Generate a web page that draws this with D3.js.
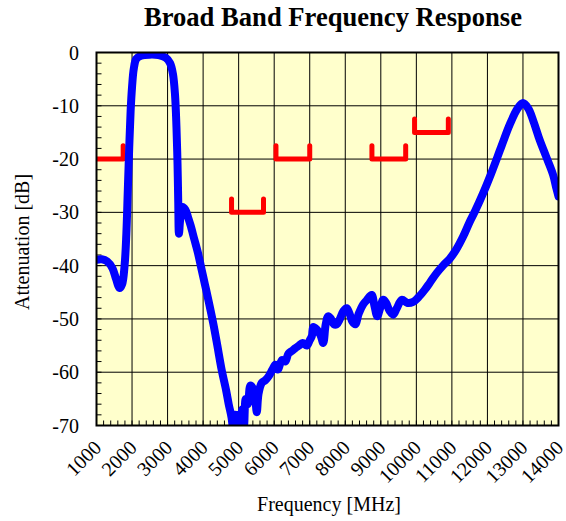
<!DOCTYPE html>
<html>
<head>
<meta charset="utf-8">
<script src="https://cdn.jsdelivr.net/npm/d3@7"></script>
<style>
  html, body { margin: 0; padding: 0; background: #fff; }
  svg { display: block; font-family: "Liberation Serif", "Times New Roman", serif; }
</style>
</head>
<body>
<div id="chart"></div>
<script>
// measured response (MHz, dB)
const freq = [1000, 1150, 1300, 1450, 1550, 1650, 1720, 1790, 1840, 1880, 1920, 1960, 2000, 2050, 2120, 2250, 2500, 2750, 2950, 3070, 3150, 3210, 3250, 3280, 3300, 3320, 3360, 3420, 3500, 3580, 3650, 3750, 3850, 3950, 4050, 4150, 4290, 4400, 4520, 4650, 4720, 4800,
  4850, 4900, 4950, 5000, 5050, 5100, 5150, 5200, 5260, 5330, 5400, 5460, 5510, 5560, 5650, 5750, 5840, 5950, 6030, 6100, 6220, 6310, 6400, 6500, 6590, 6700, 6800, 6920, 7000, 7060, 7100, 7200, 7300, 7380, 7450, 7520, 7600, 7680, 7760, 7850, 7950, 8040, 8120, 8200, 8280, 8380, 8500, 8600, 8740, 8820, 8900, 8980, 9070, 9150, 9250, 9350, 9450, 9590, 9750, 9910, 10050, 10240, 10380, 10570, 10750, 10940, 11120, 11320, 11500, 11650, 11880, 12100, 12400, 12630, 12850, 13000, 13150, 13300, 13470, 13650, 13850, 13940, 14000];
const atten = [-38.9, -38.8, -39.2, -40.5, -42.5, -44.2, -43.5, -40, -34, -26, -18, -11, -6.5, -3, -1.2, -0.6, -0.4, -0.5, -1, -2, -4, -8, -14, -21, -28, -34, -31, -29, -29.5, -31, -32.5, -35, -37.5, -40.5, -43.5, -46.5, -51, -55, -59.5, -63.5, -66, -68.5,
  -71, -68, -72, -68, -71, -67, -70, -65, -66, -62.5, -63, -64.5, -67.5, -64, -62, -61.5, -60.8, -59.5, -58.6, -59.5, -57.7, -58, -56.5, -56, -55.5, -55, -54.5, -55, -54, -53.2, -51.5, -52, -53, -54.5, -51, -49.5, -50, -51, -51, -50, -48.5, -48, -49, -50.5, -51, -49, -47.3, -46.5, -45.5, -47.5, -49.5, -48, -46.4, -47, -48.5, -49.2, -48, -46.4, -47, -46.8, -46, -44.5, -43.2, -41.4, -40, -38.7, -37, -34.5, -31.8, -29.8, -26.4, -22.8, -17.5, -13.5, -10.5, -9.5, -10.5, -13, -16.4, -19.5, -23, -25.5, -27];

// spec mask brackets
const maskStart = [800, 4800, 6050, 8750, 9950];
const maskEnd = [1750, 5700, 7000, 9700, 10900];
const maskLevel = [-20, -30, -20, -20, -15];
const maskLip = [-17.5, -27.5, -17.5, -17.5, -12.5];

const xTicks = d3.range(1000, 14001, 1000);
const yTicks = d3.range(0, -71, -10);

const W = 566, H = 521;
const margin = { top: 52.5, right: 7.5, bottom: 95.5, left: 96.5 };

const svg = d3.select('#chart').append('svg').attr('width', W).attr('height', H);

const x = d3.scaleLinear().domain([1000, 14000]).range([margin.left, W - margin.right]);
const y = d3.scaleLinear().domain([0, -70]).range([margin.top, H - margin.bottom]);

const pw = x(14000) - x(1000), ph = y(-70) - y(0);

svg.append('defs').append('clipPath').attr('id', 'plotClip')
  .append('rect').attr('x', x(1000)).attr('y', y(0)).attr('width', pw).attr('height', ph);

svg.append('rect')
  .attr('x', x(1000)).attr('y', y(0)).attr('width', pw).attr('height', ph)
  .attr('fill', '#ffffcc');

// grid
svg.append('g')
  .selectAll('line')
  .data(xTicks.slice(1, -1))
  .join('line')
  .attr('x1', (d) => x(d)).attr('x2', (d) => x(d))
  .attr('y1', y(0)).attr('y2', y(-70))
  .attr('stroke', '#000').attr('stroke-width', 1);

svg.append('g')
  .selectAll('line')
  .data(yTicks.slice(1, -1))
  .join('line')
  .attr('x1', x(1000)).attr('x2', x(14000))
  .attr('y1', (d) => y(d)).attr('y2', (d) => y(d))
  .attr('stroke', '#000').attr('stroke-width', 1);

// minor ticks (inside)
svg.append('g')
  .selectAll('line')
  .data(d3.range(1000, 14001, 200))
  .join('line')
  .attr('x1', (d) => x(d)).attr('x2', (d) => x(d))
  .attr('y1', y(-70)).attr('y2', y(-70) - 5)
  .attr('stroke', '#000').attr('stroke-width', 1);

svg.append('g')
  .selectAll('line')
  .data(d3.range(0, -71, -2))
  .join('line')
  .attr('x1', x(1000)).attr('x2', x(1000) + 5)
  .attr('y1', (d) => y(d)).attr('y2', (d) => y(d))
  .attr('stroke', '#000').attr('stroke-width', 1);

// mask brackets
const plot = svg.append('g').attr('clip-path', 'url(#plotClip)');
const bracket = (i) => {
  const p = d3.path();
  if (maskStart[i] >= 1000) p.moveTo(x(maskStart[i]), y(maskLip[i]));
  else p.moveTo(x(maskStart[i]), y(maskLevel[i]));
  p.lineTo(x(maskStart[i]), y(maskLevel[i]));
  p.lineTo(x(maskEnd[i]), y(maskLevel[i]));
  p.lineTo(x(maskEnd[i]), y(maskLip[i]));
  return p.toString();
};
plot.selectAll('path.mask')
  .data(d3.range(maskStart.length))
  .join('path')
  .attr('class', 'mask')
  .attr('d', bracket)
  .attr('fill', 'none')
  .attr('stroke', '#ff0000')
  .attr('stroke-width', 5)
  .attr('stroke-linejoin', 'round')
  .attr('stroke-linecap', 'round');

// response curve
const line = d3.line().x((i) => x(freq[i])).y((i) => y(atten[i])).curve(d3.curveCatmullRom.alpha(0.5));
plot.append('path')
  .attr('d', line(d3.range(freq.length)))
  .attr('fill', 'none')
  .attr('stroke', '#0000ff')
  .attr('stroke-width', 8)
  .attr('stroke-linejoin', 'round')
  .attr('stroke-linecap', 'round');

// frame
svg.append('rect')
  .attr('x', x(1000)).attr('y', y(0)).attr('width', pw).attr('height', ph)
  .attr('fill', 'none').attr('stroke', '#000').attr('stroke-width', 2);

// tick labels
svg.append('g')
  .selectAll('text')
  .data(yTicks)
  .join('text')
  .attr('x', 79).attr('y', (d) => y(d))
  .attr('dy', '0.35em')
  .attr('text-anchor', 'end')
  .attr('font-size', 20)
  .text((d) => d);

svg.append('g')
  .selectAll('text')
  .data(xTicks)
  .join('text')
  .attr('transform', (d) => `translate(${x(d) + 1},${444}) rotate(-45)`)
  .attr('dy', '0.35em')
  .attr('text-anchor', 'end')
  .attr('font-size', 20)
  .text((d) => d);

// titles
svg.append('text')
  .attr('x', 333).attr('y', 26)
  .attr('text-anchor', 'middle')
  .attr('font-size', 26.6)
  .attr('font-weight', 'bold')
  .text('Broad Band Frequency Response');

svg.append('text')
  .attr('x', 329).attr('y', 511)
  .attr('text-anchor', 'middle')
  .attr('font-size', 20)
  .text('Frequency [MHz]');

svg.append('text')
  .attr('transform', 'translate(29,242) rotate(-90)')
  .attr('text-anchor', 'middle')
  .attr('font-size', 20)
  .text('Attenuation [dB]');
</script>
</body>
</html>
